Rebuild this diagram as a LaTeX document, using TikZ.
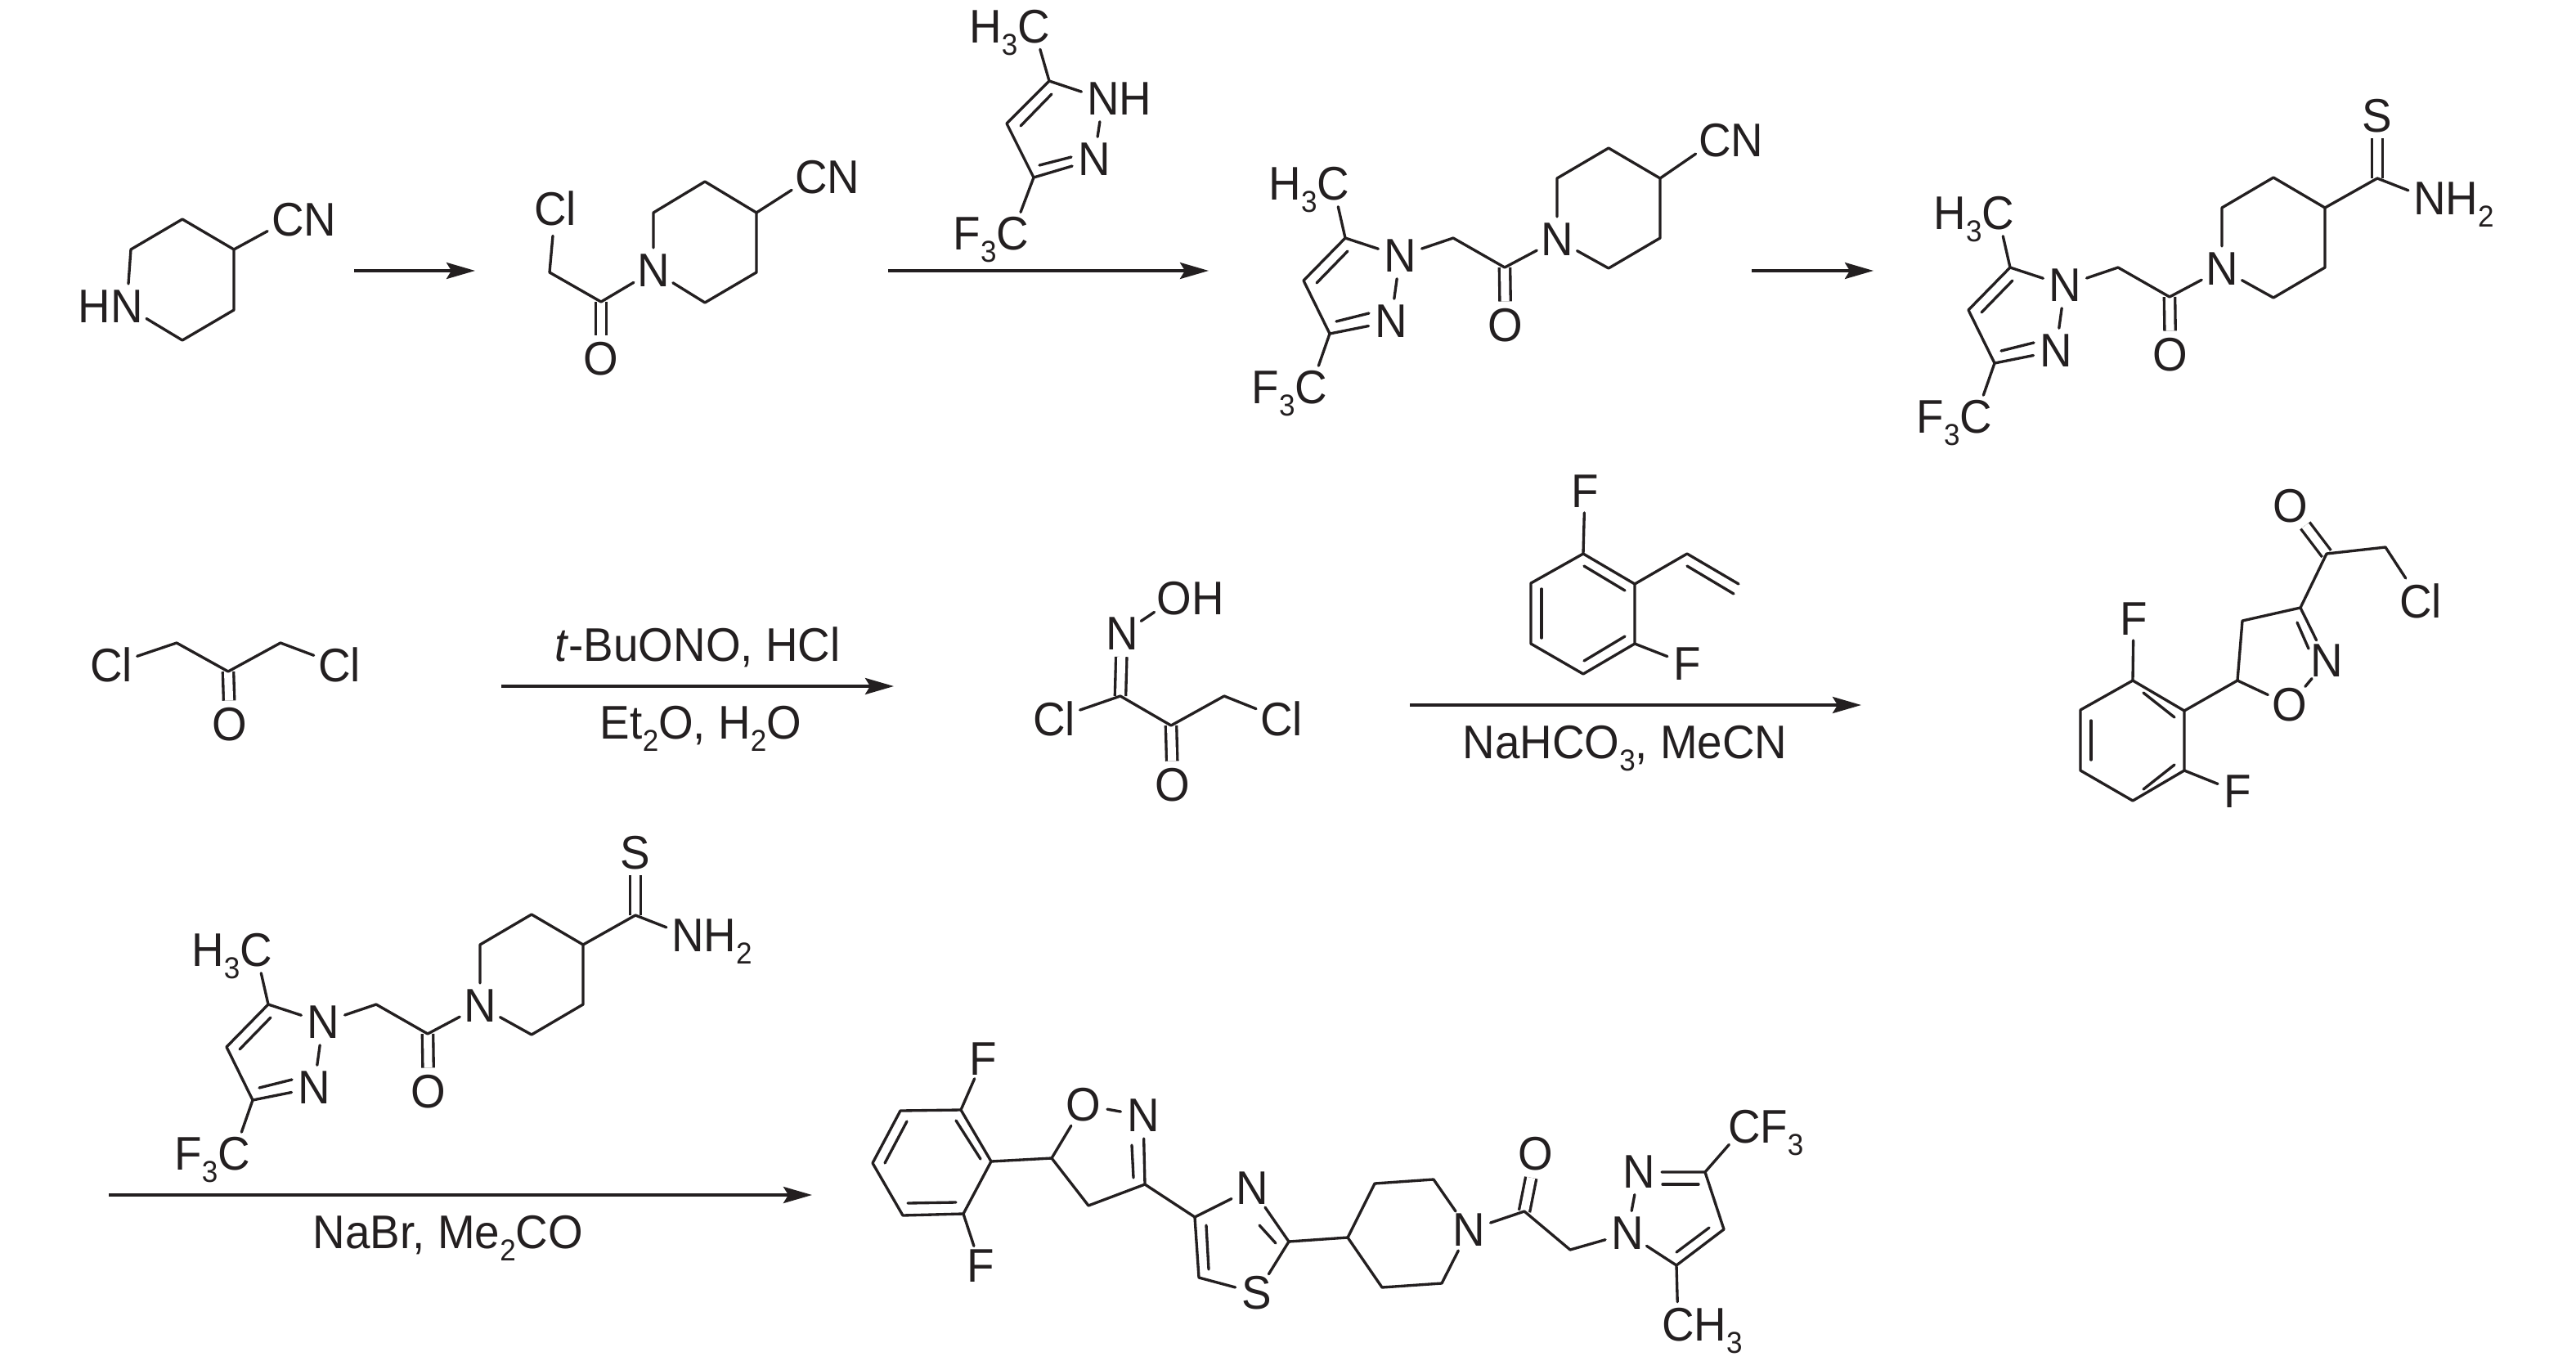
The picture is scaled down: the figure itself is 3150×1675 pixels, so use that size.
\documentclass[tikz,border=0pt]{standalone}
\usepackage{fontspec}
\setmainfont[FakeStretch=0.95]{Liberation Sans}
\usetikzlibrary{calc,arrows.meta}
\definecolor{ink}{HTML}{231F20}
\tikzset{
  bond/.style={draw=ink,line width=0.95pt,line cap=round,line join=round},
  dbond/.style={draw=ink,line width=0.95pt,double=white,double distance=0.1cm,line cap=butt},
  atom/.style={shape=circle,inner sep=0pt,outer sep=0pt,text=ink,font=\fontsize{16.4}{19}\selectfont},
  rest/.style={inner sep=0pt,outer sep=0pt,text=ink,font=\fontsize{16.4}{19}\selectfont},
  rxn/.style={draw=ink,line width=1.05pt,-{Stealth[length=0.35cm,width=0.2cm,inset=0.06cm]}},
  cond/.style={inner sep=0pt,outer sep=0pt,anchor=base,text=ink,font=\fontsize{16.4}{19}\selectfont}
}
\newcommand\subs[1]{\raisebox{-0.26em}{\fontsize{10.5}{10.5}\selectfont #1}}
% atom letter with extra text on its left / right
\newcommand\atomL[5][19.5]{\node[atom] (#2) at (#3) {#4};
  \node[rest,anchor=base east] (#2-r) at ($(#2.base)+(-#1,0)$) {#5};}
\newcommand\atomR[5][19.5]{\node[atom] (#2) at (#3) {#4};
  \node[rest,anchor=base west] (#2-r) at ($(#2.base)+(#1,0)$) {#5};}
% inner line of a double bond
\newcommand\inb[3]{\coordinate (#1-a) at (#2); \coordinate (#1-b) at (#3); \draw[bond] (#1-a)--(#1-b);}
% the pyrazole - CH2 - CO - piperidine fragment
\newcommand\pyrpip[4]{%
\begin{scope}[shift={(#2,#3)},name prefix=#1-]
  \coordinate (c5) at (1645,291); \coordinate (c4) at (1594,343); \coordinate (c3) at (1626,408);
  \node[atom] (n1) at (1712,313) {N};
  \node[atom] (n2) at (1701,393) {N};
  \atomL{me}{1630,225}{C}{H\subs{3}}
  \atomL{cf}{1603,474}{C}{F\subs{3}}
  \coordinate (ch) at (1777,291); \coordinate (co) at (1840,327);
  \node[atom] (o) at (1841,398) {O};
  \node[atom] (np) at (1904,293) {N};
  \coordinate (p2) at (1904,218); \coordinate (p3) at (1967,181); \coordinate (p4) at (2030,218);
  \coordinate (p5) at (2030,291); \coordinate (p6) at (1967,328);
  \draw[dbond] (co)--(o);
  \draw[bond] (n1)--(c5)--(c4)--(c3)--(n2);
  \draw[bond] (n1)--(n2);
  \draw[bond] (c5)--(me);
  \draw[bond] (c3)--(cf);
  \inb{i1}{1648,307}{1610,346}
  \inb{i2}{1634,393}{1674,383}
  \draw[bond] (n1)--(ch)--(co)--(np);
  \draw[bond] (np)--(p2)--(p3)--(p4)--(p5)--(p6)--(np);
  #4
\end{scope}}
\newcommand\tailCN{\atomR{cn}{2097,172}{C}{N}\draw[bond] (p4)--(cn);}
\newcommand\tailThio{\coordinate (ct) at (2094,182);
  \node[atom] (s) at (2094,106) {S};
  \atomR{nh}{2158,207}{N}{H\subs{2}}
  \draw[dbond] (ct)--(s);
  \draw[bond] (p4)--(ct)--(nh);}
\begin{document}
\begin{tikzpicture}[x=0.01cm,y=-0.01cm]
\useasboundingbox (0,0) rectangle (3150,1675);
% --- molecule A
\atomL{a-n}{155,375}{N}{H}
\atomR{a-c}{352,269}{C}{N}
\coordinate (a1) at (160,305); \coordinate (a2) at (223,268); \coordinate (a3) at (286,305);
\coordinate (a4) at (286,379); \coordinate (a5) at (223,416);
\draw[bond] (a-n)--(a1)--(a2)--(a3)--(a4)--(a5)--(a-n);
\draw[bond] (a3)--(a-c);
% arrow 1
\coordinate (r1s) at (433,331); \coordinate (r1e) at (581,331);
\draw[rxn] (r1s)--(r1e);
% --- molecule B
\node[atom] (b-cl) at (679,255) {Cl};
\coordinate (b1) at (672,333); \coordinate (b2) at (735,369);
\node[atom] (b-o) at (735,439) {O};
\node[atom] (b-n) at (799,331) {N};
\coordinate (b3) at (799,260); \coordinate (b4) at (862,222); \coordinate (b5) at (925,260);
\coordinate (b6) at (925,333); \coordinate (b7) at (862,370);
\atomR{b-c}{992,217}{C}{N}
\draw[dbond] (b2)--(b-o);
\draw[bond] (b-cl)--(b1)--(b2)--(b-n);
\draw[bond] (b-n)--(b3)--(b4)--(b5)--(b6)--(b7)--(b-n);
\draw[bond] (b5)--(b-c);
% --- reagent pyrazole
\coordinate (r5) at (1283,99); \coordinate (r4) at (1231,151); \coordinate (r3) at (1264,217);
\atomR{r-nh}{1349,121}{N}{H}
\node[atom] (r-n) at (1338,195) {N};
\atomL{r-me}{1264,33}{C}{H\subs{3}}
\atomL{r-cf}{1238,286}{C}{F\subs{3}}
\draw[bond] (r-nh)--(r5)--(r4)--(r3)--(r-n);
\draw[bond] (r-nh)--(r-n);
\draw[bond] (r5)--(r-me);
\draw[bond] (r3)--(r-cf);
\inb{r-i1}{1286,115}{1248,154}
\inb{r-i2}{1271,202}{1310,192}
% arrow 2
\coordinate (r2s) at (1086,331); \coordinate (r2e) at (1478,331);
\draw[rxn] (r2s)--(r2e);
% --- molecule C, D, F
\pyrpip{mc}{0}{0}{\tailCN}
\coordinate (r3s) at (2142,331); \coordinate (r3e) at (2291,331);
\draw[rxn] (r3s)--(r3e);
\pyrpip{md}{813}{36}{\tailThio}
\pyrpip{mf}{-1317}{937}{\tailThio}
% --- row 2: dichloroacetone
\node[atom] (e-cl1) at (136,813) {Cl};
\node[atom] (e-cl2) at (415,813) {Cl};
\coordinate (e1) at (216,786); \coordinate (e2) at (279,821); \coordinate (e3) at (343,786);
\node[atom] (e-o) at (281,886) {O};
\draw[dbond] (e2)--(e-o);
\draw[bond] (e-cl1)--(e1)--(e2)--(e3)--(e-cl2);
% arrow 4
\coordinate (r4s) at (613,839); \coordinate (r4e) at (1093,839);
\draw[rxn] (r4s)--(r4e);
\node[cond] (c4a) at (853,808) {\textit{t}-BuONO, HCl};
\node[cond] (c4b) at (857,903) {Et\subs{2}O, H\subs{2}O};
% --- oxime
\node[atom] (g-n) at (1372,775) {N};
\atomR[21]{g-oh}{1436,732}{O}{H}
\coordinate (g1) at (1370,851); \coordinate (g2) at (1432,887); \coordinate (g3) at (1497,851);
\node[atom] (g-cl1) at (1289,879) {Cl};
\node[atom] (g-cl2) at (1567,879) {Cl};
\node[atom] (g-o) at (1434,960) {O};
\draw[dbond] (g1)--(g-n);
\draw[dbond] (g2)--(g-o);
\draw[bond] (g-n)--(g-oh);
\draw[bond] (g-cl1)--(g1)--(g2)--(g3)--(g-cl2);
% --- difluorostyrene
\node[atom] (h-f1) at (1938,601) {F};
\node[atom] (h-f2) at (2063,812) {F};
\coordinate (h1) at (1936,677); \coordinate (h2) at (1999,714); \coordinate (h3) at (1999,787);
\coordinate (h4) at (1936,824); \coordinate (h5) at (1872,787); \coordinate (h6) at (1872,713);
\coordinate (h7) at (2063,677); \coordinate (h8) at (2126,714);
\draw[bond] (h1)--(h2)--(h3)--(h4)--(h5)--(h6)--cycle;
\draw[bond] (h1)--(h-f1);
\draw[bond] (h3)--(h-f2);
\draw[bond] (h2)--(h7)--(h8);
\inb{h-i1}{1937,692}{1987,722}
\inb{h-i2}{1885,720}{1885,780}
\inb{h-i3}{1937,808}{1987,778}
\inb{h-i4}{2063,692}{2120,726}
% arrow 5
\coordinate (r5s) at (1724,862); \coordinate (r5e) at (2276,862);
\draw[rxn] (r5s)--(r5e);
\node[cond] (c5) at (1987,927) {NaHCO\subs{3}, MeCN};
% --- chloroketone isoxazoline
\node[atom] (k-f1) at (2609,757) {F};
\node[atom] (k-f2) at (2736,968) {F};
\coordinate (k1) at (2608,832); \coordinate (k2) at (2671,869); \coordinate (k3) at (2671,942);
\coordinate (k4) at (2608,979); \coordinate (k5) at (2544,942); \coordinate (k6) at (2544,868);
\coordinate (k7) at (2736,832); \coordinate (k8) at (2742,759); \coordinate (k9) at (2813,743);
\node[atom] (k-n) at (2845,808) {N};
\node[atom] (k-o) at (2800,862) {O};
\coordinate (k10) at (2845,677); \coordinate (k11) at (2917,669);
\node[atom] (k-o2) at (2801,619) {O};
\node[atom] (k-cl) at (2960,735) {Cl};
\draw[dbond] (k10)--(k-o2);
\draw[bond] (k1)--(k2)--(k3)--(k4)--(k5)--(k6)--cycle;
\draw[bond] (k1)--(k-f1);
\draw[bond] (k3)--(k-f2);
\draw[bond] (k2)--(k7)--(k8)--(k9)--(k-n);
\draw[bond] (k7)--(k-o);
\draw[bond] (k-o)--(k-n);
\draw[bond] (k9)--(k10)--(k11)--(k-cl);
\inb{k-i1}{2621,847}{2659,877}
\inb{k-i2}{2557,881}{2557,929}
\inb{k-i3}{2621,965}{2659,935}
\inb{k-i4}{2809,761}{2823,793}
% arrow 6
\coordinate (r6s) at (133,1461); \coordinate (r6e) at (993,1461);
\draw[rxn] (r6s)--(r6e);
\node[cond] (c6) at (548,1526) {NaBr, Me\subs{2}CO};
% --- final product
\node[atom] (z-f1) at (1202,1295) {F};
\node[atom] (z-f2) at (1199,1548) {F};
\coordinate (z1) at (1101,1358); \coordinate (z2) at (1175,1357); \coordinate (z3) at (1212,1420);
\coordinate (z4) at (1178,1484); \coordinate (z5) at (1104,1486); \coordinate (z6) at (1067,1422);
\draw[bond] (z1)--(z2)--(z3)--(z4)--(z5)--(z6)--cycle;
\draw[bond] (z2)--(z-f1);
\draw[bond] (z4)--(z-f2);
\inb{z-i1}{1169,1370}{1199,1417}
\inb{z-i2}{1109,1371}{1082,1422}
\inb{z-i3}{1110,1471}{1169,1470}
\coordinate (y1) at (1286,1416); \coordinate (y2) at (1331,1474); \coordinate (y3) at (1400,1448);
\node[atom] (y-n) at (1398,1364) {N};
\node[atom] (y-o) at (1325,1351) {O};
\draw[bond] (z3)--(y1)--(y2)--(y3)--(y-n);
\draw[bond] (y1)--(y-o);
\draw[bond] (y-o)--(y-n);
\inb{y-i}{1386,1440}{1384,1400}
\coordinate (t4) at (1461,1488); \coordinate (t2) at (1576,1518); \coordinate (t5) at (1466,1562);
\node[atom] (t-n) at (1531,1453) {N};
\node[atom] (t-s) at (1537,1581) {S};
\draw[bond] (y3)--(t4)--(t-n)--(t2)--(t-s)--(t5)--(t4);
\inb{t-i1}{1560,1520}{1540,1498}
\inb{t-i2}{1475,1498}{1478,1552}
\coordinate (q1) at (1648,1513); \coordinate (q2) at (1681,1447); \coordinate (q3) at (1753,1442);
\coordinate (q5) at (1763,1569); \coordinate (q6) at (1690,1574);
\node[atom] (q-n) at (1796,1504) {N};
\draw[bond] (t2)--(q1)--(q2)--(q3)--(q-n)--(q5)--(q6)--(q1);
\coordinate (w1) at (1864,1481); \coordinate (w2) at (1920,1528);
\node[atom] (w-o) at (1878,1411) {O};
\draw[dbond] (w1)--(w-o);
\node[atom] (v-n1) at (1990,1508) {N};
\node[atom] (v-n2) at (2004,1433) {N};
\coordinate (v3) at (2085,1433); \coordinate (v4) at (2108,1503); \coordinate (v5) at (2050,1547);
\atomR{v-cf}{2133,1378}{C}{F\subs{3}}
\atomR{v-me}{2052,1620}{C}{H\subs{3}}
\draw[bond] (q-n)--(w1)--(w2)--(v-n1);
\draw[bond] (v-n1)--(v-n2);
\draw[bond] (v-n2)--(v3)--(v4)--(v5)--(v-n1);
\draw[bond] (v3)--(v-cf);
\draw[bond] (v5)--(v-me);
\inb{v-i1}{2077,1448}{2033,1448}
\inb{v-i2}{2090,1501}{2050,1531}
\end{tikzpicture}
\end{document}
